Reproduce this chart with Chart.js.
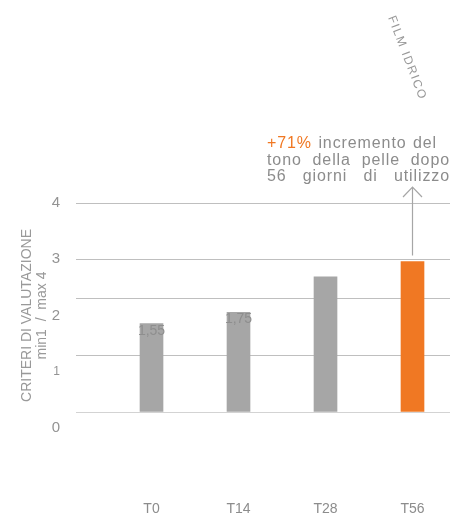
<!DOCTYPE html>
<html>
<head>
<meta charset="utf-8">
<script src="https://cdn.jsdelivr.net/npm/chart.js@4"></script>
<style>
  html, body { margin: 0; padding: 0; background: #fff; }
  #wrap { width: 465px; height: 515px; }
</style>
</head>
<body>
<div id="wrap"><canvas id="c" width="465" height="515"></canvas></div>
<script>
// ---- data ----
const categories = ['T0', 'T14', 'T28', 'T56'];
const values = [1.55, 1.75, 2.37, 2.64];
const valueLabels = ['1,55', '1,75', '', ''];
const yTickLabels = ['0', '1', '2', '3', '4'];
const gridValues = [0, 1, 2, 2.68, 3.667];
const axisTitle = ['CRITERI DI VALUTAZIONE', 'min1  /  max 4'];
const annotationLines = ['+71% incremento del', 'tono della pelle dopo', '56 giorni di utilizzo'];
const highlightWord = '+71%';
const cornerLabel = 'FILM IDRICO';

const GRAY_BAR = '#a6a6a6';
const ORANGE = '#f07823';
const TEXT = '#8c8c8c';
const FONT = '"Liberation Sans", Arial, Helvetica, sans-serif';

const barColors = values.map((v, i) => i === values.length - 1 ? ORANGE : GRAY_BAR);

const overlay = {
  id: 'overlay',
  afterDatasetsDraw(chart) {
    const ctx = chart.ctx;
    const meta = chart.getDatasetMeta(0);
    ctx.save();
    // value labels
    ctx.font = '14px ' + FONT;
    ctx.fillStyle = '#8e8e8e';
    ctx.textAlign = 'center';
    ctx.textBaseline = 'middle';
    meta.data.forEach((bar, i) => {
      if (valueLabels[i]) ctx.fillText(valueLabels[i], bar.x, bar.y + 7);
    });

    // arrow above last bar
    const last = meta.data[meta.data.length - 1];
    const tipY = 187;
    ctx.strokeStyle = '#a6a6a6';
    ctx.lineWidth = 1.2;
    ctx.beginPath();
    ctx.moveTo(last.x, last.y - 6);
    ctx.lineTo(last.x, tipY);
    ctx.moveTo(last.x - 9.5, tipY + 10);
    ctx.lineTo(last.x, tipY);
    ctx.lineTo(last.x + 9.5, tipY + 10);
    ctx.stroke();

    // justified annotation text
    ctx.font = '16px ' + FONT;
    try { ctx.letterSpacing = '0.9px'; } catch (e) {}
    ctx.textAlign = 'left';
    ctx.textBaseline = 'alphabetic';
    const x0 = 267;
    const ends = [437, 450, 450];
    const baselines = [148, 164.5, 180.5];
    annotationLines.forEach((line, li) => {
      const words = line.split(' ');
      const widths = words.map(w => ctx.measureText(w).width);
      const total = widths.reduce((a, b) => a + b, 0);
      const gap = (ends[li] - x0 - total) / (words.length - 1);
      let x = x0;
      words.forEach((w, wi) => {
        ctx.fillStyle = w === highlightWord ? ORANGE : TEXT;
        ctx.fillText(w, x, baselines[li]);
        x += widths[wi] + gap;
      });
    });

    // rotated corner label
    ctx.translate(407, 58);
    ctx.rotate(69 * Math.PI / 180);
    ctx.font = '12px ' + FONT;
    ctx.fillStyle = '#999999';
    ctx.textAlign = 'center';
    ctx.textBaseline = 'middle';
    try { ctx.letterSpacing = '1.5px'; } catch (e) {}
    ctx.fillText(cornerLabel, 0, 0);
    ctx.restore();
  }
};

new Chart(document.getElementById('c'), {
  type: 'bar',
  data: {
    datasets: [{
      data: values.map((v, i) => ({ x: i, y: v })),
      backgroundColor: barColors,
      borderWidth: 0,
      barThickness: 23,
      yAxisID: 'y'
    }]
  },
  options: {
    responsive: false,
    animation: false,
    devicePixelRatio: 1,
    layout: { padding: { top: 203, right: 15, bottom: 0, left: 0 } },
    plugins: {
      legend: { display: false },
      tooltip: { enabled: false }
    },
    scales: {
      x: {
        type: 'linear',
        offset: false,
        min: -0.868,
        max: 3.431,
        grid: { display: false },
        border: { display: false },
        afterBuildTicks: (s) => { s.ticks = categories.map((c, i) => ({ value: i })); },
        afterFit: (s) => { s.height = 87; s.paddingLeft = 0; s.paddingRight = 0; },
        ticks: {
          padding: 65,
          color: TEXT,
          font: { family: FONT, size: 14 },
          callback: (v) => categories[v]
        }
      },
      y: {
        position: 'left',
        min: -0.2807,
        max: 3.667,
        border: { display: false },
        grid: {
          drawTicks: false,
          color: (c) => c.tick && c.tick.value === 0 ? '#d3d3d3' : '#bfbfbf',
          lineWidth: 1
        },
        afterBuildTicks: (s) => { s.ticks = gridValues.map(v => ({ value: v })); },
        afterFit: (s) => { s.width = 0; s.paddingTop = 0; s.paddingBottom = 0; },
        ticks: { display: false }
      },
      y2: {
        position: 'left',
        min: 0,
        max: 4,
        grid: { display: false },
        border: { display: false },
        afterBuildTicks: (s) => { s.ticks = yTickLabels.map(t => ({ value: Number(t) })); },
        afterFit: (s) => { s.width = 76; s.paddingTop = 0; s.paddingBottom = 0; },
        ticks: {
          padding: 8,
          color: '#939393',
          font: (c) => ({ family: FONT, size: c.tick && c.tick.value === 1 ? 12 : 15 }),
          callback: (v) => yTickLabels[v]
        },
        title: {
          display: true,
          text: axisTitle,
          color: '#999999',
          font: { family: FONT, size: 14, lineHeight: 1.05 },
          padding: { top: 20, bottom: 0 }
        }
      }
    }
  },
  plugins: [overlay]
});
</script>
</body>
</html>
